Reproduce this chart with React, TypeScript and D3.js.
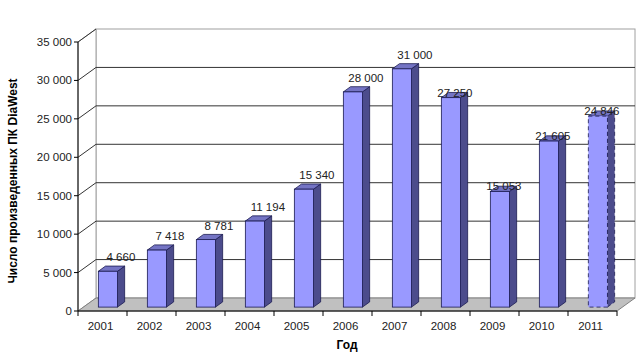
import React from 'react';
import * as d3 from 'd3';

// data
const years = ['2001', '2002', '2003', '2004', '2005', '2006', '2007', '2008', '2009', '2010', '2011'];
const units = [4660, 7418, 8781, 11194, 15340, 28000, 31000, 27250, 15053, 21605, 24846];
const yTicks = [0, 5000, 10000, 15000, 20000, 25000, 30000, 35000];
const estimatedYears = ['2011'];

const W = 640;
const H = 361;
const left = 78;
const right = 617;
const bottom = 311;
const top = 42;
const DX = 18; // depth of the plot box
const DY = -13;

const fmt = (v: number) => d3.format(',')(v).replace(/,/g, ' ');

export default function App() {
  const x = d3.scaleBand<string>().domain(years).range([left, right]);
  const y = d3.scaleLinear().domain([0, 35000]).range([bottom, top]);
  const bw = x.bandwidth();
  const barW = bw * 0.39;
  // bar sits in the middle of the depth
  const d0x = DX * 0.3, d0y = DY * 0.3;
  const bdx = DX * 0.4, bdy = DY * 0.4;

  const pts = (p: number[][]) => p.map(q => q.join(',')).join(' ');

  return (
    <div>
      <style>{`body{margin:0}`}</style>
      <svg width={W} height={H} style={{ display: 'block', fontFamily: '"Liberation Sans", Arial, sans-serif' }}>
        <rect width={W} height={H} fill="#fff" />
        {/* back wall */}
        <rect x={left + DX} y={top + DY} width={right - left} height={bottom - top} fill="#fff" stroke="#a0a0a0" strokeWidth={1} />
        {/* side wall */}
        <polygon points={pts([[left, top], [left + DX, top + DY], [left + DX, bottom + DY], [left, bottom]])} fill="#fff" stroke="#a0a0a0" />
        {/* gridlines */}
        {yTicks.map(t => (
          <g key={t}>
            {t > 0 && t < 35000 && (
              <line x1={left + DX} x2={right + DX} y1={y(t) + DY} y2={y(t) + DY} stroke="#333" strokeWidth={1} />
            )}
            {t > 0 && (
              <line x1={left} x2={left + DX} y1={y(t)} y2={y(t) + DY} stroke="#333" strokeWidth={1} />
            )}
            <line x1={left - 4} x2={left} y1={y(t)} y2={y(t)} stroke="#000" />
            <text x={left - 6} y={y(t) + 4} textAnchor="end" fontSize={11.5} fill="#222">{fmt(t)}</text>
          </g>
        ))}
        {/* floor */}
        <polygon points={pts([[left, bottom], [right, bottom], [right + DX, bottom + DY], [left + DX, bottom + DY]])} fill="#c0c0c0" stroke="#808080" />
        {/* axes */}
        <line x1={left} x2={left} y1={top} y2={bottom} stroke="#000" />
        <line x1={left} x2={right} y1={bottom} y2={bottom} stroke="#000" />
        {years.map((yr, i) => (
          <line key={'t' + yr} x1={x(yr)! + bw} x2={x(yr)! + bw} y1={bottom} y2={bottom + 5} stroke="#000" />
        ))}
        <line x1={left} x2={left} y1={bottom} y2={bottom + 5} stroke="#000" />
        {/* bars */}
        {years.map((yr, i) => {
          const v = units[i];
          const cx = x(yr)! + bw / 2;
          const fx0 = cx - barW / 2 + d0x;
          const fx1 = cx + barW / 2 + d0x;
          const fb = bottom + d0y;
          const ft = y(v) + d0y;
          const dash = estimatedYears.includes(yr) ? '4,3' : undefined;
          const stroke = '#1a1a50';
          const late = i >= 7;
          return (
            <g key={yr}>
              <polygon points={pts([[fx1, fb], [fx1 + bdx, fb + bdy], [fx1 + bdx, ft + bdy], [fx1, ft]])} fill="#4c4c8c" stroke={stroke} strokeWidth={0.8} strokeDasharray={dash} />
              <polygon points={pts([[fx0, ft], [fx1, ft], [fx1 + bdx, ft + bdy], [fx0 + bdx, ft + bdy]])} fill="#7474c4" stroke={stroke} strokeWidth={0.8} />
              <rect x={fx0} y={ft} width={fx1 - fx0} height={fb - ft} fill="#9999ff" stroke={stroke} strokeWidth={0.8} strokeDasharray={dash} />
              <text x={(fx0 + fx1) / 2 + (late ? 4 : 13)} y={ft - (late ? 1 : 10)} textAnchor="middle" fontSize={11.5} fill="#222">{fmt(v)}</text>
              <text x={cx - 2} y={330} textAnchor="middle" fontSize={11.5} fill="#222">{yr}</text>
            </g>
          );
        })}
        {/* axis titles */}
        <text x={347} y={349} textAnchor="middle" fontSize={12} fontWeight="bold" fill="#000">Год</text>
        <text transform="translate(17,181) rotate(-90)" textAnchor="middle" fontSize={12} fontWeight="bold" fill="#000">Число произведенных ПК DiaWest</text>
      </svg>
    </div>
  );
}
